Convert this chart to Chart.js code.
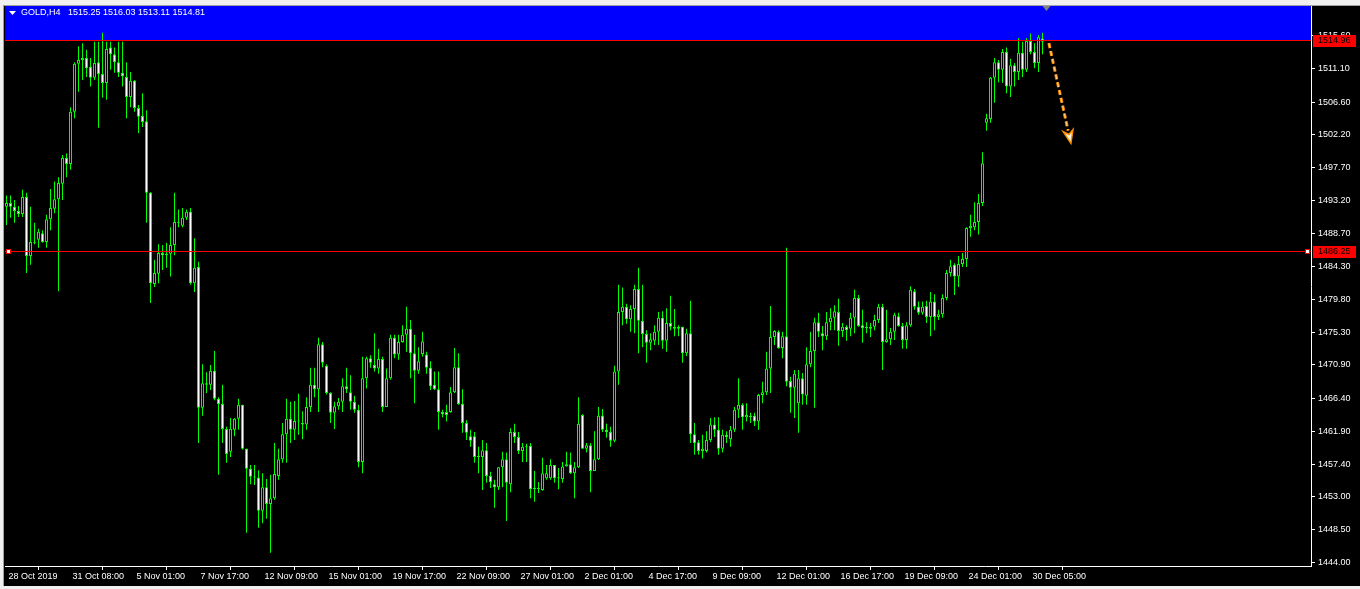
<!DOCTYPE html>
<html>
<head>
<meta charset="utf-8">
<title>GOLD,H4</title>
<script src="https://cdn.jsdelivr.net/npm/chart.js@4/dist/chart.umd.min.js"></script>
<style>
  html, body { margin: 0; padding: 0; background: #f0f0f0; overflow: hidden; }
  #wrap { position: absolute; left: 0; top: 0; width: 1360px; height: 589px; }
</style>
</head>
<body>
<div id="wrap"><canvas id="goldChart" width="1360" height="589"></canvas></div>
<script>
"use strict";
// ========== DATA ========== //
const symbolTitle = "GOLD,H4";
const lastBar = [1515.25, 1516.03, 1513.11, 1514.81]; // open high low close of the last bar

// H4 candles (one value per bar)
const opens = [
  1492.4, 1492.9, 1492.4, 1491.8, 1491.4, 1493.7, 1485.7, 1487.6, 1487.9, 1488.8,
  1487.6, 1490.7, 1492.1, 1493.4, 1495.5, 1499.0, 1498.2, 1505.3, 1511.8, 1512.3,
  1512.6, 1511.4, 1509.9, 1512.0, 1510.4, 1509.2, 1514.0, 1513.1, 1512.0, 1510.6,
  1510.0, 1507.3, 1509.5, 1505.8, 1504.7, 1504.0, 1494.3, 1481.9, 1483.3, 1486.1,
  1485.8, 1486.0, 1487.2, 1490.3, 1489.8, 1490.9, 1491.7, 1482.0, 1484.2, 1465.1,
  1468.4, 1468.2, 1470.1, 1466.3, 1465.6, 1462.2, 1459.1, 1462.1, 1463.6, 1465.5,
  1459.5, 1456.8, 1455.7, 1455.6, 1451.1, 1454.3, 1452.0, 1452.8, 1455.8, 1458.1,
  1461.5, 1463.6, 1462.1, 1463.3, 1463.0, 1462.8, 1465.2, 1468.2, 1467.6, 1473.7,
  1470.8, 1467.1, 1464.4, 1465.3, 1465.9, 1468.0, 1467.2, 1465.9, 1464.8, 1457.7,
  1469.1, 1471.8, 1470.9, 1470.4, 1471.7, 1465.2, 1469.1, 1474.6, 1472.3, 1474.0,
  1475.0, 1475.8, 1472.5, 1470.1, 1472.4, 1472.3, 1470.5, 1468.2, 1467.6, 1464.5,
  1464.5, 1464.5, 1467.2, 1470.6, 1465.6, 1463.0, 1461.2, 1461.2, 1458.5, 1458.4,
  1459.3, 1455.8, 1454.7, 1454.3, 1457.0, 1458.1, 1454.7, 1461.8, 1461.1, 1459.2,
  1459.8, 1459.9, 1454.0, 1454.2, 1453.9, 1455.5, 1455.5, 1457.3, 1455.6, 1455.4,
  1457.1, 1457.4, 1456.2, 1457.0, 1464.1, 1459.5, 1460.0, 1456.5, 1458.1, 1464.0,
  1462.1, 1461.8, 1460.6, 1470.0, 1478.1, 1478.8, 1477.1, 1478.5, 1481.2, 1476.9,
  1475.1, 1473.9, 1474.2, 1475.4, 1477.3, 1474.2, 1476.6, 1476.1, 1475.8, 1476.1,
  1472.5, 1475.2, 1461.5, 1460.4, 1459.2, 1459.2, 1460.7, 1462.8, 1462.1, 1459.5,
  1461.4, 1460.8, 1462.1, 1464.8, 1465.5, 1463.8, 1464.0, 1464.0, 1463.2, 1466.8,
  1467.2, 1470.4, 1474.7, 1475.4, 1473.2, 1474.8, 1468.7, 1467.8, 1465.7, 1469.1,
  1466.7, 1471.0, 1472.8, 1476.7, 1475.2, 1474.8, 1476.7, 1477.3, 1478.1, 1475.5,
  1476.1, 1475.8, 1477.3, 1480.0, 1476.3, 1476.1, 1476.1, 1476.1, 1477.0, 1478.8,
  1474.0, 1474.4, 1475.4, 1477.5, 1476.2, 1474.3, 1476.3, 1480.9, 1478.8, 1478.0,
  1478.9, 1477.4, 1479.5, 1477.4, 1477.8, 1480.0, 1483.4, 1484.5, 1482.9, 1484.6,
  1485.3, 1489.5, 1489.6, 1490.3, 1492.9, 1503.8, 1504.3, 1509.9, 1512.0, 1511.0,
  1513.4, 1508.7, 1511.6, 1510.7, 1513.3, 1511.0, 1514.9, 1513.4, 1511.9, 1515.25
];
const highs = [
  1493.9, 1493.9, 1493.3, 1492.5, 1494.7, 1494.3, 1492.4, 1490.2, 1489.4, 1489.2,
  1491.3, 1494.8, 1495.8, 1496.4, 1499.4, 1499.6, 1505.9, 1512.0, 1514.2, 1514.6,
  1513.7, 1512.6, 1514.8, 1514.8, 1516.0, 1514.8, 1514.8, 1514.0, 1514.8, 1514.8,
  1512.0, 1510.7, 1509.6, 1506.2, 1507.8, 1505.5, 1494.4, 1485.2, 1487.3, 1487.2,
  1487.5, 1489.6, 1494.3, 1492.0, 1492.2, 1492.0, 1492.2, 1488.1, 1484.9, 1471.0,
  1469.9, 1470.9, 1472.8, 1466.5, 1468.2, 1462.5, 1463.7, 1463.7, 1466.3, 1465.5,
  1459.5, 1457.3, 1457.3, 1456.6, 1456.2, 1455.4, 1456.0, 1460.3, 1459.5, 1463.0,
  1466.3, 1465.9, 1466.0, 1467.0, 1464.6, 1466.5, 1470.5, 1470.5, 1474.6, 1474.0,
  1471.0, 1467.2, 1465.9, 1466.4, 1469.1, 1470.5, 1469.5, 1466.7, 1465.5, 1472.0,
  1472.0, 1472.2, 1475.2, 1473.1, 1472.0, 1470.4, 1475.0, 1475.0, 1475.0, 1476.3,
  1478.8, 1477.0, 1475.0, 1473.3, 1475.4, 1472.7, 1471.4, 1470.0, 1470.0, 1464.8,
  1465.5, 1467.9, 1473.2, 1472.5, 1467.6, 1463.4, 1462.1, 1461.8, 1459.8, 1460.7,
  1460.3, 1456.4, 1455.3, 1457.0, 1459.1, 1459.0, 1462.3, 1462.9, 1461.8, 1460.3,
  1460.2, 1460.3, 1456.5, 1455.0, 1458.3, 1457.3, 1458.1, 1457.3, 1456.9, 1457.7,
  1459.1, 1459.0, 1457.7, 1466.5, 1464.2, 1460.3, 1460.3, 1461.9, 1465.2, 1464.9,
  1462.9, 1462.5, 1470.8, 1481.8, 1481.4, 1479.2, 1479.0, 1481.8, 1484.1, 1481.8,
  1475.6, 1475.2, 1476.3, 1478.1, 1478.2, 1478.6, 1480.3, 1478.5, 1476.3, 1476.1,
  1475.8, 1479.6, 1463.0, 1460.7, 1461.4, 1461.9, 1463.7, 1463.8, 1463.8, 1462.1,
  1461.9, 1462.6, 1465.2, 1469.1, 1465.7, 1465.7, 1464.4, 1464.4, 1467.0, 1468.6,
  1472.7, 1478.9, 1475.6, 1475.6, 1475.4, 1486.8, 1469.3, 1470.2, 1470.2, 1469.8,
  1473.3, 1475.4, 1477.3, 1478.0, 1476.2, 1478.1, 1478.6, 1479.0, 1479.9, 1476.6,
  1476.3, 1478.0, 1481.1, 1480.4, 1478.4, 1476.7, 1476.6, 1477.7, 1479.2, 1479.2,
  1478.4, 1475.9, 1478.0, 1478.0, 1476.6, 1476.7, 1481.6, 1481.2, 1479.5, 1479.5,
  1479.6, 1480.8, 1480.5, 1478.4, 1480.5, 1483.8, 1485.2, 1484.7, 1485.7, 1486.1,
  1489.6, 1491.3, 1493.0, 1494.1, 1499.8, 1505.0, 1510.0, 1512.6, 1512.3, 1513.8,
  1514.0, 1512.5, 1511.9, 1515.3, 1514.8, 1515.3, 1515.9, 1514.6, 1515.7, 1516.03
];
const lows = [
  1489.9, 1490.9, 1490.2, 1491.0, 1491.0, 1483.4, 1484.5, 1487.3, 1486.8, 1487.5,
  1486.8, 1489.2, 1491.5, 1480.9, 1493.3, 1496.4, 1497.4, 1504.4, 1508.0, 1509.6,
  1510.0, 1508.7, 1509.6, 1503.1, 1507.2, 1506.9, 1511.0, 1510.6, 1510.0, 1508.7,
  1504.4, 1505.9, 1505.3, 1502.4, 1503.2, 1490.2, 1479.3, 1481.5, 1482.0, 1483.8,
  1484.1, 1482.9, 1485.8, 1489.6, 1489.6, 1490.6, 1481.8, 1480.8, 1460.3, 1464.0,
  1467.1, 1467.5, 1466.1, 1456.0, 1460.3, 1457.6, 1458.4, 1461.2, 1462.1, 1459.4,
  1448.1, 1454.7, 1454.6, 1448.8, 1449.4, 1450.0, 1445.4, 1452.6, 1455.3, 1457.6,
  1457.6, 1460.3, 1460.7, 1461.4, 1460.8, 1462.1, 1464.5, 1466.5, 1464.5, 1470.6,
  1466.9, 1463.0, 1462.2, 1464.8, 1464.5, 1467.1, 1464.8, 1464.4, 1457.0, 1456.2,
  1467.7, 1470.5, 1470.0, 1469.7, 1464.5, 1465.2, 1468.9, 1471.8, 1471.6, 1473.9,
  1472.7, 1469.1, 1465.7, 1469.7, 1472.0, 1469.7, 1467.5, 1467.5, 1462.1, 1463.8,
  1463.2, 1464.4, 1467.1, 1465.5, 1461.7, 1460.7, 1459.8, 1457.6, 1456.2, 1453.9,
  1454.9, 1454.2, 1451.5, 1453.9, 1454.3, 1449.7, 1453.6, 1460.3, 1458.8, 1457.7,
  1457.7, 1452.8, 1452.3, 1453.5, 1453.8, 1455.3, 1455.3, 1454.9, 1454.0, 1454.9,
  1457.1, 1456.1, 1452.8, 1456.9, 1459.5, 1459.0, 1453.6, 1456.5, 1458.0, 1461.8,
  1461.0, 1459.8, 1460.4, 1468.2, 1476.3, 1476.5, 1475.4, 1475.2, 1472.5, 1473.3,
  1471.2, 1472.9, 1473.6, 1473.6, 1473.1, 1472.7, 1475.6, 1474.8, 1474.8, 1471.2,
  1472.1, 1460.3, 1458.7, 1458.7, 1458.2, 1459.0, 1460.4, 1461.1, 1458.7, 1459.0,
  1460.3, 1459.8, 1461.8, 1463.7, 1462.1, 1463.2, 1463.0, 1462.6, 1462.1, 1465.7,
  1466.8, 1467.1, 1473.6, 1473.1, 1471.8, 1468.0, 1464.4, 1463.7, 1461.7, 1465.5,
  1465.5, 1470.6, 1465.1, 1474.7, 1472.9, 1474.3, 1475.6, 1475.6, 1473.5, 1474.7,
  1474.2, 1474.8, 1475.2, 1476.1, 1473.9, 1475.2, 1474.7, 1475.6, 1476.6, 1470.2,
  1473.9, 1473.6, 1474.3, 1476.1, 1473.1, 1473.1, 1476.1, 1478.4, 1477.7, 1477.7,
  1476.6, 1474.8, 1475.6, 1477.0, 1477.3, 1479.7, 1482.9, 1480.4, 1481.5, 1484.2,
  1484.2, 1488.3, 1489.2, 1488.6, 1492.5, 1502.7, 1503.8, 1506.5, 1509.3, 1509.2,
  1507.8, 1507.3, 1508.7, 1509.6, 1510.0, 1510.7, 1513.1, 1511.2, 1510.7, 1513.11
];
const closes = [
  1492.9, 1492.4, 1491.8, 1491.4, 1493.7, 1485.7, 1487.6, 1487.5, 1489.0, 1487.6,
  1490.7, 1492.2, 1493.4, 1495.6, 1499.0, 1498.2, 1505.3, 1511.8, 1512.3, 1512.6,
  1511.2, 1509.9, 1511.9, 1510.4, 1509.2, 1513.8, 1513.1, 1512.0, 1510.6, 1510.1,
  1507.3, 1509.5, 1505.8, 1504.6, 1503.9, 1494.3, 1482.0, 1483.4, 1486.1, 1485.8,
  1486.0, 1487.2, 1490.3, 1490.2, 1490.9, 1491.7, 1482.0, 1484.1, 1465.1, 1468.4,
  1468.2, 1470.1, 1466.3, 1465.6, 1462.2, 1458.8, 1462.2, 1463.6, 1465.5, 1459.5,
  1456.8, 1455.7, 1455.6, 1451.1, 1454.3, 1452.0, 1452.8, 1456.1, 1458.1, 1461.5,
  1463.6, 1462.1, 1463.3, 1463.2, 1462.8, 1465.2, 1468.2, 1467.6, 1473.7, 1471.2,
  1467.1, 1464.4, 1465.3, 1465.9, 1468.0, 1467.6, 1465.9, 1464.8, 1457.7, 1469.1,
  1471.8, 1471.2, 1470.4, 1471.7, 1465.2, 1469.1, 1474.6, 1472.3, 1474.0, 1475.0,
  1475.8, 1472.5, 1470.1, 1471.4, 1474.1, 1470.5, 1468.0, 1467.6, 1464.5, 1464.2,
  1464.1, 1467.2, 1470.6, 1465.6, 1463.0, 1461.7, 1460.6, 1458.4, 1458.4, 1459.3,
  1455.8, 1455.0, 1454.3, 1457.0, 1458.1, 1454.9, 1461.8, 1461.1, 1459.2, 1459.8,
  1459.9, 1454.0, 1454.2, 1454.0, 1456.2, 1456.2, 1457.3, 1455.5, 1455.5, 1457.1,
  1457.4, 1456.2, 1457.0, 1462.9, 1459.5, 1460.0, 1456.5, 1458.1, 1464.0, 1462.1,
  1461.8, 1460.6, 1470.0, 1478.1, 1478.8, 1477.1, 1478.5, 1481.2, 1476.9, 1475.1,
  1473.9, 1474.4, 1475.4, 1477.3, 1474.2, 1476.6, 1476.1, 1475.8, 1476.1, 1472.5,
  1475.2, 1461.5, 1460.3, 1459.2, 1459.5, 1460.7, 1462.8, 1462.1, 1459.5, 1461.4,
  1461.1, 1462.1, 1464.8, 1465.5, 1463.8, 1464.1, 1463.8, 1463.2, 1466.8, 1467.2,
  1470.4, 1474.7, 1475.5, 1473.2, 1474.8, 1468.6, 1467.8, 1469.7, 1469.1, 1466.9,
  1471.0, 1472.8, 1476.7, 1475.4, 1474.8, 1476.7, 1477.3, 1478.2, 1475.5, 1476.1,
  1475.6, 1477.3, 1480.0, 1476.2, 1475.9, 1475.9, 1475.8, 1477.0, 1478.8, 1474.0,
  1474.4, 1475.4, 1477.7, 1476.2, 1474.3, 1476.3, 1481.1, 1478.8, 1478.0, 1478.8,
  1477.4, 1479.5, 1477.4, 1477.8, 1480.0, 1483.4, 1484.3, 1482.9, 1484.6, 1485.3,
  1489.5, 1489.8, 1490.3, 1492.9, 1498.3, 1504.4, 1509.9, 1512.0, 1511.0, 1513.4,
  1508.7, 1511.6, 1510.7, 1513.3, 1511.0, 1514.9, 1513.4, 1511.9, 1515.4, 1514.81
];

// time axis labels, one every 16 bars
const timeLabels = [
  "28 Oct 2019", "31 Oct 08:00", "5 Nov 01:00", "7 Nov 17:00", "12 Nov 09:00",
  "15 Nov 01:00", "19 Nov 17:00", "22 Nov 09:00", "27 Nov 01:00", "2 Dec 01:00",
  "4 Dec 17:00", "9 Dec 09:00", "12 Dec 01:00", "16 Dec 17:00", "19 Dec 09:00",
  "24 Dec 01:00", "30 Dec 05:00"
];
const barsPerLabel = 16;

// price scale ticks
const priceTicks = [
  1444.00, 1448.50, 1453.00, 1457.40, 1461.90, 1466.40, 1470.90, 1475.30, 1479.80,
  1484.30, 1488.70, 1493.20, 1497.70, 1502.20, 1506.60, 1511.10, 1515.60
];
const priceMin = 1443.59;
const priceMax = 1519.65;

// horizontal levels drawn on the chart
const levels = [1514.96, 1486.25];

// dashed arrow (bar index, price)
const arrowFrom = { bar: 260.6, price: 1514.6 };
const arrowTo = { bar: 266.1, price: 1501.0 };

// ========== COLORS ========== //
const candleGreen = "#00ff00";
const fontFamily = "'Liberation Sans', Arial, sans-serif";

// ========== HELPERS ========== //
function prepareCandles() {
  let bodies = [];
  let wicks = [];
  opens.forEach((open, i) => {
    bodies.push({ x: i, y: [open, closes[i]] });
    wicks.push({ x: i, y: [lows[i], highs[i]] });
  });
  return { bodies, wicks };
}

// draws background frame, blue zone, levels, arrow and header
const mt4Plugin = {
  id: "mt4Plugin",
  beforeDraw(chart) {
    const ctx = chart.ctx;
    ctx.save();
    ctx.fillStyle = "#f0f0f0";
    ctx.fillRect(0, 0, chart.width, chart.height);
    ctx.fillStyle = "#a0a0a0";
    ctx.fillRect(3, 5, chart.width - 3, 1);
    ctx.fillRect(3, 5, 1, chart.height - 8);
    ctx.fillStyle = "#000000";
    ctx.fillRect(4, 6, chart.width - 4, chart.height - 9);
    ctx.restore();
  },
  beforeDatasetsDraw(chart) {
    const { ctx, chartArea: a, scales } = chart;
    const yTop = Math.round(scales.y.getPixelForValue(levels[0]));
    ctx.save();
    ctx.fillStyle = "#0000ff";
    ctx.fillRect(a.left, a.top, a.right - a.left, yTop - a.top);
    ctx.restore();
  },
  afterDatasetsDraw(chart) {
    const { ctx, chartArea: a, scales } = chart;
    ctx.save();
    // red levels
    ctx.fillStyle = "#ff0000";
    levels.forEach(level => {
      const yy = Math.round(scales.y.getPixelForValue(level)) - 1;
      ctx.fillRect(a.left, yy, a.right - a.left, 1);
    });
    // anchor squares on the lower level
    const yLow = Math.round(scales.y.getPixelForValue(levels[1])) - 1;
    [a.left + 1, a.right - 6].forEach(xx => {
      ctx.fillStyle = "#ff0000";
      ctx.fillRect(xx, yLow - 2, 5, 5);
      ctx.fillStyle = "#ffffff";
      ctx.fillRect(xx + 1, yLow - 1, 3, 3);
    });

    // dashed orange arrow
    const x0 = scales.x.getPixelForValue(arrowFrom.bar);
    const y0 = scales.y.getPixelForValue(arrowFrom.price);
    const x1 = scales.x.getPixelForValue(arrowTo.bar);
    const y1 = scales.y.getPixelForValue(arrowTo.price);
    const len = Math.hypot(x1 - x0, y1 - y0);
    const ux = (x1 - x0) / len, uy = (y1 - y0) / len;
    const headLen = 13, headHalf = 5;
    const bx = x1 - ux * headLen, by = y1 - uy * headLen;
    ctx.setLineDash([5, 3]);
    ctx.lineCap = "butt";
    ctx.strokeStyle = "#ff8c00";
    ctx.lineWidth = 3;
    ctx.beginPath();
    ctx.moveTo(x0, y0);
    ctx.lineTo(bx, by);
    ctx.stroke();
    ctx.strokeStyle = "#ffd08a";
    ctx.lineWidth = 1;
    ctx.stroke();
    ctx.setLineDash([]);
    ctx.beginPath();
    ctx.moveTo(x1, y1);
    ctx.lineTo(bx - uy * headHalf, by + ux * headHalf);
    ctx.lineTo(bx + ux * 4, by + uy * 4);
    ctx.lineTo(bx + uy * headHalf, by - ux * headHalf);
    ctx.closePath();
    ctx.fillStyle = "#fff4e0";
    ctx.fill();
    ctx.strokeStyle = "#ff8c00";
    ctx.lineWidth = 1.5;
    ctx.stroke();
    ctx.restore();
  },
  afterDraw(chart) {
    const { ctx, chartArea: a, scales } = chart;
    ctx.save();
    // price labels of the levels on the right scale
    ctx.font = "9px " + fontFamily;
    ctx.textBaseline = "middle";
    ctx.textAlign = "left";
    levels.forEach(level => {
      const yy = Math.round(scales.y.getPixelForValue(level));
      ctx.fillStyle = "#ff0000";
      ctx.fillRect(a.right + 2, yy - 6, 43, 12);
      ctx.fillStyle = "#000000";
      ctx.fillText(level.toFixed(2), a.right + 7, yy);
    });

    // shift marker at the top
    const xs = scales.x.getPixelForValue(opens.length - 1) + 4;
    ctx.fillStyle = "#808080";
    ctx.beginPath();
    ctx.moveTo(xs - 4, a.top);
    ctx.lineTo(xs + 4, a.top);
    ctx.lineTo(xs, a.top + 5);
    ctx.closePath();
    ctx.fill();

    // header: triangle, symbol and last bar values
    ctx.fillStyle = "#ffffff";
    ctx.beginPath();
    ctx.moveTo(9, 11);
    ctx.lineTo(16, 11);
    ctx.lineTo(12.5, 15);
    ctx.closePath();
    ctx.fill();
    ctx.font = "9px " + fontFamily;
    ctx.fillText(symbolTitle, 21, 13);
    ctx.fillText(lastBar.map(v => v.toFixed(2)).join(" "), 68, 13);
    ctx.restore();
  }
};

// ========== CHART ========== //
function appendGoldChart() {
  const data = prepareCandles();
  const canvas = document.querySelector("#goldChart");

  new Chart(canvas, {
    type: "bar",
    data: {
      datasets: [
        // candle bodies: black = up bar, white = down bar
        {
          label: "body",
          data: data.bodies,
          order: 1,
          grouped: false,
          barThickness: 3,
          maxBarThickness: 3,
          minBarLength: 1,
          borderWidth: 1,
          borderSkipped: false,
          inflateAmount: 0,
          borderColor: candleGreen,
          backgroundColor: ctx => (closes[ctx.dataIndex] > opens[ctx.dataIndex] ? "#000000" : "#ffffff")
        },
        // high-low wicks
        {
          label: "wick",
          data: data.wicks,
          order: 2,
          grouped: false,
          barThickness: 1,
          maxBarThickness: 1,
          borderWidth: 0,
          inflateAmount: 0,
          backgroundColor: candleGreen
        }
      ]
    },
    options: {
      responsive: false,
      devicePixelRatio: 1,
      animation: false,
      events: [],
      layout: { padding: { left: 5, top: 6, right: 3, bottom: 3 } },
      plugins: {
        legend: { display: false },
        tooltip: { enabled: false }
      },
      scales: {
        x: {
          type: "linear",
          min: -0.375,
          max: 326.125,
          offset: false,
          afterBuildTicks: scale => {
            scale.ticks = timeLabels.map((t, i) => ({ value: i * barsPerLabel }));
          },
          afterFit: scale => {
            scale.height = 20;
            scale.paddingLeft = 0;
            scale.paddingRight = 0;
          },
          ticks: {
            autoSkip: false,
            maxRotation: 0,
            minRotation: 0,
            align: "start",
            labelOffset: 2,
            padding: 1,
            color: "#ffffff",
            font: { family: fontFamily, size: 9 },
            callback: value => timeLabels[value / barsPerLabel]
          },
          grid: { drawOnChartArea: false, tickLength: 4, color: "#ffffff" },
          border: { display: true, color: "#ffffff" }
        },
        y: {
          position: "right",
          min: priceMin,
          max: priceMax,
          afterBuildTicks: scale => {
            scale.ticks = priceTicks.map(v => ({ value: v }));
          },
          afterFit: scale => {
            scale.width = 46;
            scale.paddingTop = 0;
            scale.paddingBottom = 0;
          },
          ticks: {
            autoSkip: false,
            padding: 3,
            color: "#ffffff",
            font: { family: fontFamily, size: 9 },
            callback: value => Number(value).toFixed(2)
          },
          grid: { drawOnChartArea: false, tickLength: 4, color: "#ffffff" },
          border: { display: true, color: "#ffffff" }
        }
      }
    },
    plugins: [mt4Plugin]
  });
}

appendGoldChart();
</script>
</body>
</html>
